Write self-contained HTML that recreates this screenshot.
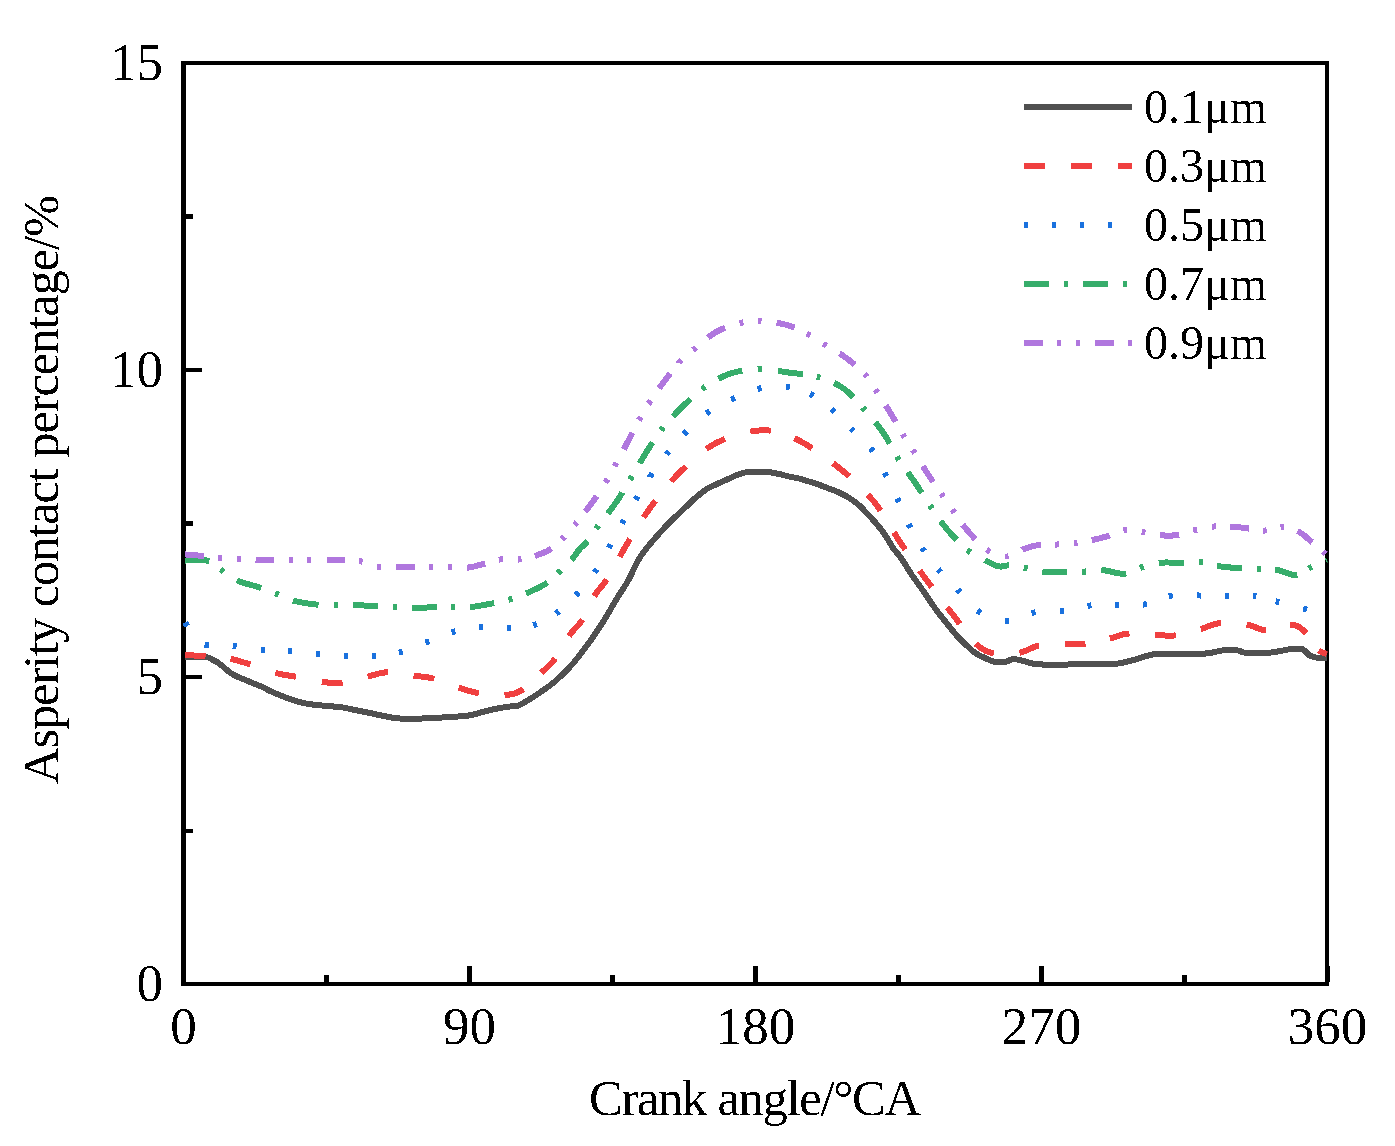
<!DOCTYPE html>
<html><head><meta charset="utf-8"><style>
html,body{margin:0;padding:0;background:#fff;width:1395px;height:1146px;overflow:hidden}
svg{display:block}
text{font-family:"Liberation Serif", serif;fill:#000}
</style></head><body>
<svg width="1395" height="1146" viewBox="0 0 1395 1146">
<rect width="1395" height="1146" fill="#fff"/>

<filter id="bin" filterUnits="userSpaceOnUse" x="0" y="0" width="1395" height="1146" color-interpolation-filters="sRGB"><feComponentTransfer><feFuncA type="discrete" tableValues="0 1"/></feComponentTransfer></filter>
<clipPath id="clip"><rect x="176" y="61" width="1151.5" height="923"/></clipPath>
<g fill="#000">
<rect x="181" y="61" width="5" height="925"/>
<rect x="181" y="61" width="1148" height="4"/>
<rect x="1325" y="61" width="4" height="925"/>
<rect x="181" y="982" width="1148" height="4"/>
<rect x="181.0" y="966" width="5" height="16"/>
<rect x="467.0" y="966" width="5" height="16"/>
<rect x="753.0" y="966" width="5" height="16"/>
<rect x="1039.0" y="966" width="5" height="16"/>
<rect x="1325.0" y="966" width="5" height="16"/>
<rect x="324.0" y="975" width="5" height="7"/>
<rect x="610.0" y="975" width="5" height="7"/>
<rect x="896.0" y="975" width="5" height="7"/>
<rect x="1182.0" y="975" width="5" height="7"/>
<rect x="186" y="982.0" width="16" height="4"/>
<rect x="186" y="675.0" width="16" height="4"/>
<rect x="186" y="368.0" width="16" height="4"/>
<rect x="186" y="61.0" width="16" height="4"/>
<rect x="186" y="829" width="7" height="4"/>
<rect x="186" y="521" width="7" height="5"/>
<rect x="186" y="214" width="7" height="5"/>
</g>
<g clip-path="url(#clip)" shape-rendering="crispEdges">
<path d="M185.0,657.5 C188.6,657.5 202.0,657.0 206.5,657.3 C211.0,657.6 210.3,658.6 212.2,659.5 C214.1,660.4 216.0,661.3 217.9,662.6 C219.8,663.9 221.8,665.6 223.7,667.2 C225.6,668.8 227.5,670.7 229.4,672.1 C231.3,673.5 233.2,674.6 235.1,675.6 C237.0,676.6 239.0,677.3 240.9,678.1 C242.8,678.9 244.7,679.6 246.6,680.4 C248.5,681.2 250.4,682.2 252.3,683.0 C254.2,683.8 256.2,684.5 258.1,685.3 C260.0,686.1 261.8,686.6 263.8,687.6 C265.8,688.6 266.6,689.5 270.0,691.0 C273.4,692.5 279.5,695.1 284.3,696.9 C289.1,698.7 293.9,700.6 298.7,701.9 C303.5,703.2 308.2,703.9 313.0,704.6 C317.8,705.3 322.5,705.5 327.3,706.0 C332.1,706.5 336.9,706.6 341.7,707.3 C346.5,708.0 351.3,709.2 356.0,710.2 C360.7,711.2 366.6,712.3 370.0,713.0 C373.4,713.7 373.5,713.9 376.5,714.5 C379.5,715.1 384.1,716.1 387.9,716.8 C391.7,717.5 393.7,718.2 399.4,718.5 C405.1,718.8 414.6,718.7 422.3,718.5 C430.0,718.3 437.7,717.8 445.3,717.3 C452.9,716.8 462.5,716.4 468.2,715.6 C473.9,714.9 475.9,713.8 479.7,712.8 C483.5,711.8 487.3,710.8 491.1,709.9 C494.9,709.0 498.8,708.3 502.6,707.6 C506.4,706.9 511.2,706.4 514.1,705.9 C517.0,705.4 516.1,706.8 520.0,704.8 C523.9,702.8 531.7,698.1 537.5,694.2 C543.3,690.3 549.1,686.5 554.9,681.5 C560.7,676.5 566.6,670.9 572.4,664.2 C578.2,657.6 585.4,647.5 589.8,641.6 C594.1,635.7 596.1,632.3 598.5,628.7 C600.9,625.1 601.4,624.8 604.3,620.0 C607.2,615.2 612.0,606.7 616.0,600.0 C620.0,593.3 625.4,585.6 628.5,580.0 C631.6,574.4 632.9,570.4 634.9,566.5 C636.9,562.6 638.5,559.7 640.6,556.4 C642.8,553.1 645.2,550.0 647.8,546.8 C650.4,543.6 653.2,540.4 656.0,537.2 C658.8,534.0 661.6,530.8 664.6,527.6 C667.6,524.4 670.9,521.2 674.2,518.0 C677.5,514.8 680.9,511.6 684.3,508.4 C687.7,505.2 690.7,502.0 694.4,498.8 C698.1,495.6 702.8,491.6 706.4,489.2 C710.0,486.8 712.0,486.4 716.0,484.5 C720.0,482.6 726.1,479.9 730.1,478.1 C734.1,476.3 736.8,474.9 740.1,473.8 C743.4,472.7 746.8,472.0 750.1,471.7 C753.5,471.4 756.9,471.8 760.2,471.9 C763.6,472.0 766.9,471.9 770.2,472.3 C773.6,472.7 776.9,473.6 780.3,474.3 C783.6,475.1 787.0,476.1 790.3,476.8 C793.6,477.5 796.9,477.9 800.0,478.7 C803.1,479.5 805.8,480.5 808.7,481.4 C811.6,482.3 814.6,483.2 817.5,484.2 C820.4,485.2 823.3,486.4 826.2,487.5 C829.1,488.6 832.0,489.5 834.9,490.7 C837.8,491.9 840.7,493.1 843.6,494.7 C846.5,496.3 849.7,498.2 852.4,500.1 C855.1,502.0 857.7,503.9 860.0,506.0 C862.3,508.1 864.0,510.4 866.0,512.5 C868.0,514.6 869.7,516.1 872.1,518.8 C874.5,521.4 877.8,525.2 880.3,528.4 C882.8,531.6 884.9,534.8 887.0,538.0 C889.1,541.2 890.5,544.4 892.8,547.6 C895.0,550.8 898.2,554.1 900.5,557.2 C902.8,560.4 904.5,563.4 906.5,566.5 C908.5,569.6 910.3,572.8 912.5,576.0 C914.7,579.2 917.4,582.6 919.8,586.0 C922.2,589.4 924.6,593.0 926.8,596.2 C928.9,599.4 930.5,601.9 932.7,605.0 C934.9,608.1 937.5,611.7 940.1,615.0 C942.7,618.3 945.7,622.0 948.1,625.0 C950.5,628.0 952.5,630.6 954.4,632.8 C956.2,635.0 957.6,636.6 959.2,638.3 C960.8,640.0 962.4,641.6 964.0,643.1 C965.6,644.6 967.2,646.0 968.8,647.4 C970.4,648.8 972.0,650.6 973.6,651.8 C975.2,653.0 976.8,653.9 978.4,654.8 C980.0,655.7 981.6,656.4 983.2,657.2 C984.8,658.0 986.4,658.7 988.0,659.4 C989.6,660.1 991.1,660.9 992.8,661.4 C994.5,661.9 996.1,662.2 998.0,662.3 C999.9,662.4 1002.3,662.4 1004.0,662.2 C1005.7,662.0 1006.7,661.5 1008.0,661.0 C1009.3,660.5 1010.3,659.7 1011.6,659.4 C1012.9,659.1 1013.8,659.1 1016.0,659.4 C1018.2,659.7 1022.4,660.7 1024.7,661.3 C1027.0,661.9 1027.9,662.4 1030.0,662.9 C1032.1,663.4 1033.0,663.8 1037.1,664.1 C1041.2,664.5 1048.7,665.0 1054.5,665.0 C1060.3,665.0 1064.4,664.5 1072.0,664.4 C1079.6,664.2 1092.4,664.2 1100.0,664.1 C1107.6,664.0 1111.7,664.3 1117.5,663.6 C1123.3,662.9 1129.1,661.2 1134.9,659.7 C1140.7,658.2 1146.6,655.5 1152.4,654.5 C1158.2,653.5 1161.1,653.8 1169.8,653.6 C1178.5,653.5 1196.0,654.1 1204.7,653.6 C1213.4,653.1 1216.7,651.0 1222.2,650.5 C1227.7,650.0 1234.1,650.1 1237.9,650.5 C1241.7,650.9 1240.2,652.3 1244.9,652.7 C1249.6,653.1 1259.4,653.5 1265.8,653.1 C1272.2,652.7 1278.9,651.2 1283.3,650.5 C1287.7,649.8 1288.8,649.1 1292.0,648.9 C1295.2,648.7 1299.6,648.1 1302.5,649.2 C1305.4,650.3 1307.2,653.9 1309.5,655.3 C1311.8,656.7 1313.5,657.2 1316.4,657.6 C1319.3,658.0 1325.2,657.6 1327.0,657.6" fill="none" stroke="#505050" stroke-width="6" stroke-linejoin="round"/>
<path d="M185.03,654.80 L185.47,654.84 L186.00,654.88 L186.60,654.93 L187.24,654.98 L187.94,655.03 L188.69,655.09 L189.48,655.15 L190.31,655.21 L191.18,655.28 L192.08,655.35 L193.01,655.42 L193.96,655.49 L194.94,655.57 L195.93,655.65 L196.94,655.73 L197.96,655.81 L198.98,655.89 L200.00,655.98 L201.03,656.06 L202.05,656.15 L203.06,656.24 L204.06,656.32 L205.04,656.41 L205.56,656.46 M230.53,658.99 L230.60,659.00 L231.50,659.17 L232.38,659.34 L233.23,659.51 L234.06,659.70 L234.87,659.88 L235.66,660.07 L236.44,660.27 L237.21,660.47 L237.97,660.67 L238.72,660.88 L239.47,661.10 L240.21,661.32 L240.96,661.54 L241.71,661.78 L242.47,662.01 L243.24,662.26 L244.02,662.50 L244.81,662.76 L245.62,663.02 L246.44,663.28 L247.29,663.55 L248.17,663.83 L249.07,664.11 L250.00,664.40 L250.40,664.53 M275.27,672.80 L276.00,673.00 L276.92,673.24 L277.80,673.47 L278.65,673.68 L279.47,673.87 L280.26,674.05 L281.03,674.21 L281.78,674.36 L282.52,674.51 L283.24,674.64 L283.96,674.77 L284.67,674.89 L285.38,675.01 L286.08,675.12 L286.80,675.23 L287.52,675.35 L288.26,675.46 L289.01,675.58 L289.78,675.70 L290.57,675.82 L291.39,675.96 L292.24,676.10 L293.12,676.26 L294.04,676.42 L295.00,676.60 L296.00,676.79 M321.82,681.74 L322.00,681.76 L323.00,681.90 L323.96,682.03 L324.88,682.15 L325.76,682.26 L326.61,682.37 L327.43,682.48 L328.23,682.58 L329.00,682.67 L329.76,682.76 L330.49,682.83 L331.22,682.90 L331.94,682.96 L332.65,683.01 L333.36,683.05 L334.07,683.08 L334.79,683.10 L335.51,683.11 L336.25,683.11 L337.00,683.09 L337.77,683.06 L338.56,683.02 L339.37,682.96 L340.21,682.89 L341.09,682.80 L342.00,682.70 L342.62,682.62 M367.54,676.61 L367.60,676.60 L368.54,676.38 L369.45,676.15 L370.33,675.92 L371.20,675.69 L372.04,675.45 L372.87,675.22 L373.68,674.98 L374.48,674.75 L375.27,674.52 L376.05,674.29 L376.83,674.07 L377.61,673.86 L378.38,673.65 L379.16,673.45 L379.95,673.27 L380.74,673.10 L381.55,672.94 L382.37,672.79 L383.20,672.66 L384.05,672.55 L384.93,672.46 L385.83,672.38 L386.75,672.33 L387.70,672.30 L387.78,672.30 M413.50,675.63 L414.00,675.70 L414.93,675.82 L415.82,675.93 L416.68,676.04 L417.51,676.13 L418.32,676.21 L419.11,676.29 L419.88,676.37 L420.63,676.44 L421.37,676.52 L422.10,676.59 L422.82,676.67 L423.54,676.74 L424.26,676.83 L424.99,676.92 L425.71,677.01 L426.45,677.12 L427.20,677.24 L427.96,677.37 L428.74,677.52 L429.54,677.68 L430.36,677.85 L431.21,678.05 L432.09,678.26 L433.00,678.50 L433.94,678.76 L434.17,678.83 M458.73,687.64 L459.54,687.90 L460.45,688.20 L461.33,688.48 L462.19,688.77 L463.03,689.04 L463.86,689.31 L464.67,689.58 L465.47,689.83 L466.25,690.08 L467.04,690.33 L467.81,690.57 L468.59,690.80 L469.36,691.03 L470.14,691.25 L470.93,691.46 L471.72,691.67 L472.53,691.87 L473.35,692.06 L474.18,692.25 L475.04,692.43 L475.91,692.61 L476.81,692.78 L477.74,692.94 L478.70,693.10 L478.84,693.12 M504.50,695.06 L505.30,695.00 L506.20,694.92 L507.07,694.84 L507.91,694.74 L508.72,694.64 L509.51,694.53 L510.28,694.40 L511.02,694.27 L511.75,694.12 L512.46,693.96 L513.16,693.79 L513.84,693.60 L514.52,693.40 L515.19,693.18 L515.85,692.95 L516.51,692.69 L517.17,692.42 L517.84,692.13 L518.50,691.82 L519.17,691.49 L519.85,691.14 L520.54,690.76 L521.25,690.37 L521.97,689.95 L522.70,689.50 L523.35,689.09 M541.07,672.93 L541.66,672.38 L542.30,671.79 L542.93,671.21 L543.54,670.66 L544.14,670.12 L544.72,669.59 L545.30,669.08 L545.87,668.57 L546.43,668.07 L546.98,667.56 L547.53,667.06 L548.08,666.56 L548.62,666.04 L549.15,665.52 L549.69,664.99 L550.23,664.44 L550.77,663.88 L551.31,663.29 L551.86,662.68 L552.41,662.05 L552.97,661.39 L553.54,660.69 L554.11,659.96 L554.70,659.20 L555.24,658.46 M569.05,635.91 L569.40,635.40 L569.97,634.60 L570.53,633.85 L571.09,633.13 L571.64,632.44 L572.19,631.79 L572.73,631.16 L573.27,630.55 L573.81,629.96 L574.34,629.39 L574.87,628.82 L575.39,628.27 L575.92,627.71 L576.44,627.16 L576.96,626.60 L577.48,626.03 L578.00,625.45 L578.52,624.85 L579.04,624.23 L579.57,623.59 L580.09,622.93 L580.61,622.23 L581.14,621.49 L581.67,620.72 L582.20,619.90 L582.41,619.55 M594.31,596.28 L594.50,595.95 L595.00,595.10 L595.49,594.30 L595.97,593.56 L596.44,592.85 L596.91,592.18 L597.36,591.55 L597.81,590.95 L598.26,590.38 L598.70,589.82 L599.13,589.29 L599.57,588.76 L600.00,588.25 L600.44,587.74 L600.87,587.24 L601.31,586.73 L601.75,586.21 L602.19,585.68 L602.64,585.13 L603.10,584.56 L603.56,583.97 L604.03,583.35 L604.50,582.70 L604.99,582.01 L605.49,581.28 L606.00,580.50 L606.52,579.68 L606.69,579.42 M619.60,556.94 L619.80,556.60 L620.28,555.76 L620.74,554.96 L621.17,554.20 L621.59,553.48 L621.98,552.78 L622.36,552.10 L622.73,551.44 L623.09,550.80 L623.44,550.17 L623.78,549.55 L624.13,548.93 L624.48,548.31 L624.84,547.69 L625.20,547.05 L625.57,546.40 L625.96,545.73 L626.36,545.04 L626.79,544.32 L627.23,543.57 L627.70,542.78 L628.20,541.96 L628.73,541.09 L629.30,540.17 L629.90,539.20 L630.02,539.01 M643.59,517.28 L643.84,516.91 L644.76,515.54 L645.70,514.17 L646.66,512.79 L647.62,511.42 L648.60,510.06 L649.60,508.70 L650.61,507.34 L651.63,505.95 L652.67,504.55 L653.73,503.14 L654.79,501.71 L655.50,500.77 M671.23,481.35 L671.35,481.21 L672.65,479.78 L673.96,478.36 L675.29,476.96 L676.64,475.57 L678.00,474.20 L679.38,472.83 L680.78,471.45 L682.19,470.05 L683.62,468.65 L685.07,467.24 L685.85,466.48 M706.23,449.08 L706.93,448.59 L708.60,447.46 L710.28,446.37 L711.97,445.33 L713.68,444.34 L715.40,443.40 L717.15,442.50 L718.93,441.62 L720.76,440.77 L722.61,439.95 L724.49,439.15 L725.01,438.94 M750.28,431.62 L751.80,431.36 L753.67,431.08 L755.51,430.85 L757.31,430.65 L759.08,430.50 L760.80,430.40 L762.48,430.34 L764.11,430.32 L765.71,430.34 L767.27,430.39 L768.80,430.49 L770.31,430.63 L770.82,430.69 M794.45,438.27 L795.34,438.70 L797.00,439.50 L798.70,440.35 L800.44,441.27 L802.23,442.25 L804.05,443.29 L805.90,444.38 L807.78,445.52 L809.67,446.70 L811.59,447.93 L812.15,448.29 M833.05,463.20 L834.49,464.31 L836.26,465.69 L837.99,467.05 L839.67,468.39 L841.30,469.70 L842.89,471.00 L844.46,472.29 L846.00,473.59 L847.52,474.88 L849.02,476.17 L849.19,476.31 M867.76,494.50 L867.97,494.74 L869.22,496.14 L870.45,497.56 L871.68,498.99 L872.89,500.43 L874.10,501.90 L875.29,503.39 L876.45,504.89 L877.59,506.42 L878.70,507.97 L879.80,509.53 L880.60,510.72 M893.95,532.40 L894.95,534.03 L895.97,535.66 L897.00,537.28 L898.04,538.90 L899.10,540.50 L900.17,542.10 L901.24,543.69 L902.31,545.29 L903.39,546.88 L904.47,548.48 L905.18,549.53 M919.65,570.48 L919.79,570.68 L920.91,572.25 L922.03,573.82 L923.15,575.38 L924.27,576.94 L925.40,578.50 L926.54,580.06 L927.69,581.63 L928.85,583.21 L930.03,584.79 L931.21,586.38 L931.72,587.06 M947.23,607.34 L947.86,608.15 L948.98,609.61 L950.09,611.04 L951.18,612.45 L952.25,613.84 L953.30,615.20 L954.33,616.55 L955.34,617.89 L956.33,619.23 L957.32,620.56 L958.28,621.89 L959.24,623.20 L959.68,623.82 M975.90,643.84 L975.94,643.88 L976.77,644.62 L977.58,645.32 L978.38,645.99 L979.16,646.62 L979.94,647.22 L980.71,647.78 L981.47,648.31 L982.22,648.81 L982.98,649.29 L983.73,649.73 L984.48,650.15 L985.24,650.54 L986.00,650.91 L986.77,651.26 L987.54,651.59 L988.33,651.90 L989.13,652.18 L989.95,652.46 L990.78,652.71 L991.63,652.95 L992.49,653.18 L993.39,653.40 L993.92,653.52 M1019.50,652.72 L1019.60,652.70 L1020.51,652.52 L1021.39,652.31 L1022.24,652.08 L1023.07,651.83 L1023.88,651.55 L1024.66,651.25 L1025.44,650.94 L1026.19,650.62 L1026.94,650.29 L1027.68,649.95 L1028.41,649.60 L1029.14,649.25 L1029.88,648.90 L1030.61,648.55 L1031.36,648.20 L1032.11,647.87 L1032.87,647.54 L1033.65,647.22 L1034.45,646.92 L1035.27,646.63 L1036.11,646.36 L1036.97,646.12 L1037.87,645.90 L1038.80,645.70 L1039.03,645.66 M1065.01,644.00 L1065.97,643.97 L1066.92,643.96 L1067.85,643.96 L1068.76,643.97 L1069.66,643.99 L1070.54,644.01 L1071.40,644.05 L1072.26,644.09 L1073.11,644.13 L1073.95,644.17 L1074.78,644.21 L1075.61,644.25 L1076.44,644.29 L1077.27,644.32 L1078.10,644.34 L1078.94,644.36 L1079.78,644.37 L1080.63,644.36 L1081.49,644.34 L1082.36,644.31 L1083.25,644.26 L1084.15,644.19 L1085.06,644.11 L1085.51,644.06 M1109.81,638.45 L1110.40,638.30 L1111.27,638.08 L1112.12,637.85 L1112.93,637.62 L1113.72,637.38 L1114.49,637.14 L1115.24,636.89 L1115.97,636.65 L1116.69,636.41 L1117.40,636.17 L1118.10,635.93 L1118.79,635.69 L1119.49,635.46 L1120.18,635.24 L1120.88,635.02 L1121.59,634.81 L1122.31,634.61 L1123.04,634.43 L1123.79,634.25 L1124.56,634.09 L1125.35,633.94 L1126.17,633.80 L1127.01,633.68 L1127.89,633.58 L1128.80,633.50 L1129.48,633.46 M1155.07,634.80 L1155.97,634.84 L1156.91,634.89 L1157.84,634.95 L1158.74,635.01 L1159.62,635.08 L1160.49,635.15 L1161.35,635.22 L1162.20,635.29 L1163.03,635.35 L1163.86,635.42 L1164.69,635.48 L1165.51,635.54 L1166.33,635.59 L1167.15,635.63 L1167.97,635.66 L1168.80,635.68 L1169.64,635.69 L1170.49,635.69 L1171.35,635.67 L1172.22,635.63 L1173.11,635.58 L1174.02,635.51 L1174.95,635.41 L1175.75,635.32 M1200.79,628.91 L1201.20,628.80 L1202.11,628.54 L1202.99,628.27 L1203.84,628.00 L1204.66,627.72 L1205.46,627.43 L1206.24,627.15 L1207.01,626.86 L1207.76,626.57 L1208.50,626.28 L1209.23,625.99 L1209.96,625.71 L1210.69,625.44 L1211.42,625.17 L1212.15,624.91 L1212.89,624.66 L1213.64,624.42 L1214.41,624.20 L1215.19,623.99 L1215.99,623.79 L1216.81,623.61 L1217.66,623.45 L1218.54,623.31 L1219.45,623.20 L1220.40,623.10 L1220.71,623.08 M1246.54,624.66 L1247.50,624.80 L1248.42,624.96 L1249.31,625.14 L1250.15,625.35 L1250.97,625.58 L1251.75,625.83 L1252.51,626.10 L1253.24,626.37 L1253.96,626.66 L1254.66,626.95 L1255.35,627.25 L1256.03,627.54 L1256.71,627.83 L1257.38,628.12 L1258.06,628.39 L1258.75,628.66 L1259.44,628.91 L1260.15,629.14 L1260.88,629.35 L1261.62,629.54 L1262.39,629.69 L1263.19,629.82 L1264.03,629.92 L1264.89,629.98 L1265.80,630.00 L1266.11,629.99 M1290.35,624.80 L1291.14,624.77 L1292.00,624.80 L1292.82,624.88 L1293.62,625.00 L1294.39,625.16 L1295.13,625.35 L1295.85,625.58 L1296.55,625.84 L1297.22,626.13 L1297.87,626.45 L1298.50,626.79 L1299.10,627.14 L1299.69,627.52 L1300.26,627.91 L1300.82,628.31 L1301.35,628.72 L1301.87,629.13 L1302.38,629.55 L1302.87,629.97 L1303.35,630.39 L1303.82,630.80 L1304.27,631.21 L1304.72,631.60 L1305.15,631.99 L1305.58,632.35 L1306.00,632.70 L1306.40,633.04 L1306.45,633.08 M1318.77,650.59 L1319.04,650.77 L1319.43,651.00 L1319.83,651.23 L1320.25,651.45 L1320.68,651.65 L1321.11,651.85 L1321.55,652.04 L1321.99,652.22 L1322.44,652.40 L1322.88,652.56 L1323.31,652.72 L1323.74,652.87 L1324.15,653.01 L1324.56,653.15 L1324.94,653.28 L1325.31,653.40 L1325.66,653.51 L1325.99,653.62 L1326.29,653.73 L1326.56,653.82 L1326.79,653.91 L1327.00,654.00" fill="none" stroke="#f04040" stroke-width="6" stroke-linecap="butt"/>
<path d="M185.03,622.55 L185.11,622.68 L185.24,622.88 L185.37,623.11 L185.52,623.35 L185.68,623.62 L185.85,623.90 L186.03,624.20 L186.22,624.52 L186.42,624.85 L186.63,625.19 L186.84,625.54 L187.06,625.91 L187.20,626.12 M204.73,644.55 L204.92,644.60 L205.56,644.74 L206.26,644.87 L207.00,645.00 L207.80,645.12 L208.65,645.21 L208.84,645.23 M232.63,645.89 L232.82,645.90 L234.00,646.00 L235.17,646.11 L236.35,646.24 L236.64,646.27 M260.94,649.79 L261.83,649.89 L263.00,650.00 L264.16,650.10 L264.91,650.15 M288.09,650.88 L288.86,650.92 L290.00,651.00 L291.15,651.09 L292.02,651.16 M315.90,653.80 L316.83,653.89 L318.00,654.00 L319.17,654.10 L319.88,654.17 M343.80,655.91 L344.83,655.96 L346.00,656.00 L347.17,656.04 L347.80,656.06 M371.80,656.14 L372.85,656.08 L374.00,656.00 L375.14,655.92 L375.74,655.87 M398.87,652.54 L399.89,652.29 L401.00,652.00 L402.11,651.69 L402.73,651.51 M425.50,642.55 L426.31,642.23 L427.40,641.80 L428.49,641.38 L429.25,641.07 M451.49,632.36 L452.29,632.12 L453.40,631.80 L454.52,631.49 L455.34,631.27 M479.09,626.95 L479.84,626.89 L481.00,626.80 L482.16,626.74 L483.09,626.70 M506.91,628.03 L507.87,628.03 L509.00,628.00 L510.12,627.96 L510.79,627.93 M533.28,625.31 L533.99,625.11 L535.00,624.80 L536.01,624.47 L536.82,624.18 M556.02,613.58 L556.62,613.14 L557.50,612.50 L558.37,611.85 L559.04,611.33 M575.69,595.23 L576.20,594.67 L577.00,593.80 L577.81,592.92 L578.42,592.24 M594.52,572.52 L594.60,572.40 L595.31,571.40 L596.00,570.40 L596.67,569.40 L596.87,569.10 M608.72,547.79 L609.14,547.01 L609.70,546.00 L610.26,544.99 L610.65,544.28 M621.94,523.52 L622.34,522.80 L622.90,521.80 L623.46,520.80 L623.86,520.09 M635.68,499.68 L636.11,498.98 L636.70,498.00 L637.29,497.02 L637.70,496.34 M650.11,476.60 L650.11,476.59 L650.75,475.65 L651.40,474.70 L652.05,473.76 L652.32,473.37 M666.44,454.39 L667.09,453.58 L667.80,452.70 L668.51,451.83 L668.88,451.38 M684.01,434.21 L684.67,433.54 L685.50,432.70 L686.35,431.85 L686.90,431.30 M706.34,413.60 L707.11,413.02 L708.10,412.30 L709.09,411.60 L709.76,411.14 M731.06,399.55 L731.83,399.20 L732.90,398.70 L733.97,398.20 L734.76,397.84 M757.60,388.95 L758.45,388.75 L759.60,388.50 L760.75,388.27 L761.60,388.12 M785.97,387.08 L786.90,387.18 L788.00,387.30 L789.08,387.44 L789.78,387.54 M810.20,393.99 L810.86,394.32 L811.80,394.80 L812.73,395.29 L813.46,395.70 M831.48,409.27 L832.06,409.77 L832.90,410.50 L833.74,411.23 L834.35,411.79 M850.73,428.41 L851.29,428.98 L852.10,429.80 L852.92,430.61 L853.53,431.21 M870.67,448.11 L871.19,448.77 L871.90,449.70 L872.59,450.64 L873.08,451.36 M884.58,472.89 L884.96,473.65 L885.50,474.70 L886.04,475.75 L886.44,476.52 M897.26,498.53 L897.50,499.03 L898.00,500.10 L898.50,501.18 L898.97,502.21 M908.71,524.21 L909.18,525.16 L909.70,526.20 L910.23,527.23 L910.49,527.74 M922.20,548.02 L922.69,548.77 L923.30,549.70 L923.92,550.62 L924.32,551.22 M938.05,569.25 L938.56,569.84 L939.30,570.70 L940.05,571.55 L940.62,572.20 M957.59,589.46 L958.07,589.95 L958.90,590.80 L959.72,591.66 L960.41,592.41 M977.37,610.51 L978.11,611.04 L979.10,611.70 L980.12,612.33 L980.90,612.79 M1004.88,621.18 L1005.96,621.26 L1007.10,621.30 L1008.23,621.28 L1009.02,621.22 M1031.64,613.06 L1032.46,612.85 L1033.60,612.60 L1034.75,612.40 L1035.60,612.26 M1059.88,611.02 L1060.73,610.93 L1061.90,610.80 L1063.06,610.64 L1063.89,610.52 M1087.51,605.85 L1088.36,605.74 L1089.50,605.60 L1090.64,605.48 L1091.44,605.40 M1114.85,604.73 L1115.65,604.72 L1116.80,604.70 L1117.96,604.68 L1118.82,604.68 M1143.00,604.68 L1143.87,604.57 L1145.00,604.40 L1146.12,604.19 L1146.90,604.01 M1168.80,596.08 L1169.58,595.91 L1170.70,595.70 L1171.83,595.53 L1172.70,595.42 M1196.98,595.48 L1197.83,595.49 L1199.00,595.50 L1200.17,595.50 L1200.99,595.50 M1224.91,595.69 L1225.74,595.70 L1226.90,595.70 L1228.07,595.70 L1228.89,595.69 M1252.82,595.50 L1253.74,595.58 L1254.80,595.70 L1255.83,595.84 L1256.44,595.93 M1275.60,601.36 L1276.17,601.52 L1277.20,601.80 L1278.26,602.08 L1279.19,602.33 M1303.12,608.54 L1304.05,608.80 L1305.10,609.10 L1306.15,609.40 L1307.02,609.66" fill="none" stroke="#1a71de" stroke-width="6" stroke-linecap="butt"/>
<path d="M185.00,560.50 L185.55,560.50 L186.19,560.50 L186.93,560.48 L187.74,560.45 L188.62,560.42 L189.57,560.38 L190.58,560.34 L191.63,560.30 L192.73,560.26 L193.86,560.22 L195.01,560.18 L196.19,560.16 L197.37,560.14 L198.56,560.13 L199.75,560.13 L200.93,560.15 L202.08,560.18 L203.21,560.23 L204.31,560.30 L205.36,560.39 L206.36,560.50 L207.31,560.64 L208.19,560.81 L209.00,561.00 L209.28,561.08 M220.56,569.41 L220.86,569.66 L221.42,570.09 L222.00,570.50 L222.59,570.91 L223.19,571.33 L223.77,571.75 M236.83,580.24 L237.60,580.60 L238.41,580.95 L239.25,581.29 L240.11,581.63 L241.00,581.95 L241.92,582.27 L242.85,582.58 L243.80,582.89 L244.76,583.19 L245.74,583.48 L246.72,583.77 L247.72,584.05 L248.71,584.33 L249.71,584.61 L250.71,584.88 L251.70,585.16 L252.68,585.43 L253.66,585.70 L254.62,585.96 L255.57,586.23 L256.50,586.50 L257.41,586.77 L258.30,587.05 L259.16,587.32 L260.00,587.60 L260.81,587.88 L261.12,587.98 M275.05,593.23 L275.62,593.46 L276.31,593.73 L277.00,594.00 L277.69,594.28 L278.37,594.56 L278.80,594.74 M293.02,600.57 L293.50,600.70 L294.37,600.92 L295.28,601.14 L296.22,601.36 L297.20,601.57 L298.19,601.78 L299.21,601.98 L300.26,602.18 L301.31,602.38 L302.39,602.57 L303.47,602.76 L304.56,602.94 L305.66,603.12 L306.75,603.29 L307.85,603.45 L308.94,603.61 L310.02,603.76 L311.09,603.91 L312.14,604.04 L313.18,604.17 L314.20,604.30 L315.19,604.41 L316.16,604.52 L317.10,604.61 L318.00,604.70 L318.56,604.75 M334.12,604.71 L334.50,604.70 L335.25,604.70 L336.00,604.70 L336.76,604.71 L337.51,604.71 L338.18,604.72 M353.07,604.95 L353.65,604.97 L354.50,605.00 L355.36,605.04 L356.25,605.08 L357.15,605.12 L358.07,605.17 L359.01,605.22 L359.96,605.27 L360.91,605.33 L361.88,605.39 L362.86,605.45 L363.83,605.51 L364.82,605.57 L365.80,605.64 L366.78,605.70 L367.76,605.76 L368.74,605.83 L369.71,605.89 L370.67,605.95 L371.62,606.01 L372.56,606.06 L373.48,606.12 L374.39,606.17 L375.28,606.22 L376.15,606.26 L377.00,606.30 L377.82,606.34 L377.89,606.34 M392.72,606.74 L392.97,606.75 L393.82,606.77 L394.70,606.80 L395.62,606.83 L396.57,606.87 L396.70,606.87 M411.67,607.49 L411.93,607.50 L413.03,607.54 L414.11,607.58 L415.17,607.61 L416.20,607.64 L417.20,607.66 L418.17,607.68 L419.11,607.69 L420.00,607.70 L420.86,607.70 L421.69,607.70 L422.49,607.68 L423.27,607.67 L424.02,607.65 L424.76,607.62 L425.47,607.59 L426.17,607.56 L426.85,607.52 L427.52,607.49 L428.18,607.45 L428.83,607.41 L429.47,607.36 L430.11,607.32 L430.74,607.28 L431.37,607.24 L432.01,607.20 L432.64,607.16 L433.28,607.13 L433.92,607.09 L434.57,607.06 L435.24,607.04 L435.91,607.02 L436.60,607.00 M451.42,607.00 L451.99,607.00 L452.69,607.00 L453.40,607.00 L454.10,607.00 L454.80,607.01 L455.35,607.02 M469.93,607.05 L470.50,607.00 L471.32,606.92 L472.17,606.83 L473.03,606.73 L473.92,606.62 L474.82,606.50 L475.73,606.37 L476.65,606.23 L477.59,606.09 L478.53,605.94 L479.48,605.79 L480.44,605.63 L481.39,605.46 L482.35,605.30 L483.31,605.12 L484.26,604.95 L485.21,604.78 L486.15,604.60 L487.09,604.43 L488.01,604.25 L488.92,604.08 L489.82,603.90 L490.70,603.73 L491.56,603.56 L492.40,603.40 L493.23,603.24 L494.04,603.08 L494.15,603.06 M508.51,599.75 L508.95,599.63 L509.67,599.42 L510.40,599.20 L511.12,598.98 L511.84,598.76 L512.26,598.63 M525.96,593.49 L526.55,593.23 L527.30,592.90 L528.06,592.56 L528.84,592.22 L529.63,591.86 L530.44,591.50 L531.26,591.13 L532.09,590.75 L532.92,590.37 L533.77,589.98 L534.61,589.58 L535.46,589.18 L536.31,588.77 L537.16,588.36 L538.00,587.95 L538.84,587.53 L539.67,587.10 L540.49,586.68 L541.30,586.25 L542.10,585.82 L542.88,585.38 L543.64,584.95 L544.39,584.51 L545.12,584.08 L545.82,583.64 L546.50,583.20 L547.16,582.76 L547.44,582.56 M558.03,573.11 L558.29,572.86 L558.79,572.38 L559.30,571.90 L559.82,571.42 L560.34,570.94 L560.86,570.46 L560.86,570.46 M571.45,560.01 L571.61,559.83 L572.01,559.36 L572.40,558.89 L572.78,558.42 L573.15,557.94 L573.51,557.47 L573.86,556.99 L574.20,556.52 L574.54,556.05 L574.87,555.58 L575.20,555.11 L575.52,554.64 L575.84,554.18 L576.16,553.73 L576.47,553.27 L576.79,552.83 L577.10,552.38 L577.41,551.95 L577.72,551.52 L578.03,551.10 L578.34,550.69 L578.66,550.28 L578.98,549.89 L579.30,549.50 L579.62,549.13 L579.94,548.78 L580.25,548.46 L580.55,548.15 L580.85,547.85 L581.14,547.57 L581.44,547.30 L581.73,547.04 L582.02,546.78 L582.31,546.53 L582.60,546.27 L582.89,546.02 L583.19,545.76 L583.49,545.50 L583.79,545.22 L584.09,544.94 L584.40,544.64 L584.72,544.33 L585.05,544.00 L585.38,543.65 L585.72,543.28 L586.07,542.88 L586.43,542.46 L586.80,542.00 L587.18,541.52 L587.54,541.05 M596.04,528.77 L596.24,528.49 L596.81,527.70 L597.40,526.90 L598.02,526.07 L598.42,525.53 M607.76,513.56 L607.83,513.47 L608.65,512.42 L609.46,511.37 L610.27,510.31 L611.07,509.25 L611.86,508.20 L612.64,507.14 L613.41,506.10 L614.16,505.05 L614.89,504.02 L615.60,503.00 L616.30,501.98 L616.98,500.96 L617.66,499.94 L618.33,498.92 L618.99,497.89 L619.65,496.86 L620.30,495.83 L620.95,494.80 L621.59,493.77 L622.23,492.74 L622.24,492.71 M630.04,479.69 L630.36,479.15 L631.00,478.10 L631.64,477.04 L632.11,476.25 M639.59,463.41 L639.83,462.99 L640.46,461.91 L641.09,460.83 L641.72,459.76 L642.36,458.69 L642.99,457.62 L643.63,456.57 L644.27,455.51 L644.91,454.47 L645.55,453.43 L646.20,452.40 L646.85,451.38 L647.49,450.36 L648.13,449.34 L648.77,448.33 L649.41,447.32 L650.05,446.31 L650.68,445.31 L651.32,444.31 L651.96,443.32 L652.59,442.34 M661.03,430.28 L661.37,429.83 L662.10,428.90 L662.84,427.97 L663.42,427.26 M672.76,416.61 L672.98,416.38 L673.80,415.51 L674.63,414.65 L675.46,413.79 L676.29,412.93 L677.13,412.07 L677.98,411.21 L678.83,410.36 L679.68,409.51 L680.54,408.65 L681.40,407.80 L682.27,406.95 L683.13,406.09 L684.01,405.23 L684.88,404.36 L685.76,403.50 L686.65,402.63 L687.53,401.76 L688.43,400.90 L689.32,400.04 L690.23,399.18 L690.25,399.16 M701.94,389.20 L702.59,388.72 L703.60,388.00 L704.62,387.29 L705.27,386.84 M718.25,378.88 L718.63,378.69 L719.75,378.10 L720.89,377.54 L722.02,376.99 L723.16,376.46 L724.31,375.94 L725.46,375.45 L726.61,374.98 L727.77,374.53 L728.93,374.10 L730.10,373.70 L731.27,373.32 L732.45,372.96 L733.64,372.61 L734.84,372.29 L736.05,371.99 L737.26,371.70 L738.48,371.43 L739.71,371.18 L740.94,370.95 L742.18,370.73 L742.33,370.70 M757.56,369.25 L758.37,369.23 L759.60,369.20 L760.83,369.19 L761.77,369.20 M777.90,370.88 L778.04,370.90 L779.27,371.09 L780.50,371.29 L781.73,371.49 L782.95,371.68 L784.18,371.88 L785.41,372.07 L786.64,372.25 L787.87,372.43 L789.10,372.60 L790.33,372.76 L791.57,372.91 L792.82,373.06 L794.07,373.21 L795.32,373.35 L796.58,373.49 L797.84,373.62 L799.10,373.76 L800.36,373.90 L801.62,374.05 L802.88,374.20 L802.99,374.21 M816.80,376.61 L817.46,376.78 L818.60,377.10 L819.73,377.44 L820.45,377.66 M833.95,382.90 L834.69,383.26 L835.70,383.78 L836.71,384.31 L837.70,384.86 L838.69,385.42 L839.66,386.00 L840.63,386.60 L841.60,387.21 L842.55,387.85 L843.50,388.50 L844.44,389.17 L845.36,389.87 L846.27,390.60 L847.17,391.34 L848.06,392.10 L848.94,392.89 L849.81,393.69 L850.67,394.51 L851.53,395.34 L852.37,396.19 L853.16,397.00 M862.64,407.49 L863.07,407.98 L863.90,408.90 L864.73,409.83 L865.28,410.45 M875.38,422.29 L875.53,422.48 L876.34,423.49 L877.14,424.51 L877.93,425.52 L878.72,426.54 L879.49,427.57 L880.26,428.59 L881.01,429.62 L881.75,430.64 L882.48,431.67 L883.20,432.70 L883.90,433.73 L884.58,434.77 L885.25,435.82 L885.90,436.88 L886.54,437.94 L887.16,439.00 L887.78,440.07 L888.39,441.15 L888.98,442.23 L889.57,443.30 L889.66,443.47 M896.94,456.60 L897.34,457.26 L898.00,458.30 L898.67,459.34 L899.09,459.99 M907.72,472.32 L907.88,472.54 L908.61,473.54 L909.33,474.55 L910.06,475.55 L910.78,476.56 L911.49,477.56 L912.20,478.57 L912.91,479.57 L913.61,480.58 L914.31,481.59 L915.00,482.60 L915.68,483.61 L916.36,484.63 L917.03,485.64 L917.70,486.66 L918.37,487.68 L919.03,488.70 L919.68,489.71 L920.34,490.73 L920.99,491.75 L921.65,492.77 L921.77,492.96 M929.85,505.36 L930.22,505.90 L930.90,506.90 L931.58,507.89 L932.09,508.64 M940.64,520.97 L941.23,521.78 L941.94,522.76 L942.66,523.72 L943.39,524.68 L944.12,525.64 L944.86,526.58 L945.60,527.52 L946.36,528.46 L947.13,529.38 L947.90,530.30 L948.69,531.22 L949.49,532.14 L950.31,533.07 L951.15,534.00 L952.00,534.93 L952.85,535.87 L953.72,536.80 L954.60,537.73 L955.48,538.65 L956.36,539.56 L956.60,539.81 M967.18,549.77 L967.52,550.06 L968.30,550.70 L969.06,551.31 L969.81,551.88 L970.41,552.32 M984.70,560.20 L985.33,560.52 L985.96,560.85 L986.59,561.17 L987.21,561.49 L987.83,561.81 L988.45,562.13 L989.06,562.44 L989.67,562.74 L990.28,563.04 L990.88,563.33 L991.48,563.62 L992.07,563.89 L992.66,564.16 L993.24,564.42 L993.81,564.67 L994.38,564.90 L994.95,565.13 L995.50,565.34 L996.05,565.54 L996.60,565.72 L997.13,565.89 L997.66,566.04 L998.19,566.18 L998.70,566.30 L999.20,566.40 L999.68,566.46 L1000.14,566.51 L1000.58,566.53 L1001.01,566.53 L1001.43,566.51 L1001.84,566.47 L1002.24,566.42 L1002.63,566.36 L1003.02,566.28 L1003.41,566.20 L1003.79,566.12 L1004.18,566.03 L1004.58,565.94 L1004.98,565.85 L1005.39,565.77 L1005.80,565.69 L1006.24,565.62 L1006.68,565.56 L1007.14,565.52 L1007.62,565.48 L1008.13,565.47 L1008.65,565.47 L1009.20,565.50 L1009.25,565.50 M1023.77,567.74 L1024.30,567.84 L1025.01,567.97 L1025.70,568.10 L1026.38,568.23 L1027.05,568.37 L1027.67,568.51 M1042.40,571.61 L1043.19,571.67 L1044.13,571.72 L1045.11,571.77 L1046.11,571.80 L1047.15,571.83 L1048.22,571.85 L1049.30,571.86 L1050.41,571.86 L1051.53,571.86 L1052.67,571.85 L1053.81,571.84 L1054.95,571.82 L1056.09,571.80 L1057.23,571.78 L1058.37,571.75 L1059.49,571.73 L1060.60,571.71 L1061.68,571.68 L1062.75,571.66 L1063.79,571.64 L1064.79,571.62 L1065.77,571.61 L1066.71,571.60 L1067.40,571.60 M1082.23,571.67 L1082.81,571.66 L1083.50,571.63 L1084.20,571.60 L1084.91,571.56 L1085.61,571.51 L1086.23,571.45 M1101.44,569.99 L1101.70,570.00 L1102.55,570.06 L1103.43,570.16 L1104.32,570.28 L1105.24,570.43 L1106.18,570.60 L1107.13,570.79 L1108.10,571.00 L1109.07,571.22 L1110.06,571.45 L1111.05,571.68 L1112.05,571.92 L1113.05,572.16 L1114.05,572.39 L1115.05,572.61 L1116.04,572.83 L1117.03,573.03 L1118.00,573.21 L1118.97,573.37 L1119.92,573.50 L1120.86,573.61 L1121.78,573.69 L1122.67,573.73 L1123.55,573.74 L1124.40,573.70 L1125.23,573.62 L1126.04,573.51 L1126.31,573.46 M1140.03,567.87 L1140.46,567.70 L1141.18,567.44 L1141.90,567.20 L1142.62,566.97 L1143.33,566.75 L1143.85,566.58 M1158.69,562.87 L1159.30,562.80 L1160.19,562.72 L1161.12,562.65 L1162.07,562.59 L1163.06,562.55 L1164.07,562.52 L1165.10,562.50 L1166.15,562.49 L1167.21,562.49 L1168.29,562.50 L1169.38,562.51 L1170.47,562.53 L1171.57,562.56 L1172.66,562.58 L1173.76,562.61 L1174.84,562.64 L1175.92,562.67 L1176.98,562.70 L1178.03,562.73 L1179.06,562.76 L1180.06,562.78 L1181.04,562.79 L1181.99,562.80 L1182.91,562.81 L1183.80,562.80 L1184.00,562.80 M1198.91,562.17 L1199.54,562.20 L1200.21,562.24 L1200.90,562.30 L1201.58,562.37 L1202.24,562.47 L1202.83,562.56 M1216.97,566.01 L1217.76,566.13 L1218.67,566.25 L1219.60,566.37 L1220.57,566.49 L1221.57,566.61 L1222.59,566.73 L1223.64,566.84 L1224.70,566.95 L1225.78,567.06 L1226.87,567.17 L1227.96,567.27 L1229.06,567.38 L1230.16,567.47 L1231.26,567.57 L1232.36,567.67 L1233.44,567.76 L1234.52,567.85 L1235.58,567.94 L1236.61,568.02 L1237.63,568.10 L1238.62,568.18 L1239.58,568.26 L1240.51,568.33 L1241.40,568.40 L1241.69,568.42 M1256.79,569.22 L1257.37,569.24 L1258.08,569.27 L1258.80,569.30 L1259.52,569.32 L1260.24,569.34 L1260.71,569.34 M1275.06,569.62 L1275.51,569.68 L1276.30,569.80 L1277.11,569.95 L1277.95,570.13 L1278.80,570.35 L1279.68,570.59 L1280.57,570.86 L1281.47,571.15 L1282.38,571.46 L1283.30,571.78 L1284.23,572.11 L1285.16,572.45 L1286.09,572.78 L1287.03,573.11 L1287.95,573.44 L1288.87,573.75 L1289.78,574.05 L1290.69,574.33 L1291.57,574.59 L1292.44,574.82 L1293.30,575.01 L1294.13,575.18 L1294.94,575.30 L1295.72,575.38 L1296.48,575.42 L1297.20,575.40 L1297.44,575.38 M1308.76,568.60 L1309.11,568.38 L1309.69,568.03 L1310.30,567.70 L1310.94,567.38 L1311.62,567.04 L1312.09,566.82 M1325.80,560.73 L1326.18,560.56 L1326.62,560.37 L1327.00,560.20" fill="none" stroke="#37ad6b" stroke-width="6" stroke-linecap="butt"/>
<path d="M185.02,554.40 L185.40,554.44 L185.86,554.48 L186.38,554.52 L186.94,554.57 L187.56,554.62 L188.21,554.68 L188.91,554.74 L189.64,554.80 L190.40,554.87 L191.19,554.93 L192.00,555.00 L192.83,555.08 L193.67,555.15 L194.53,555.22 L195.39,555.30 L196.25,555.38 L197.11,555.46 L197.96,555.53 L198.80,555.61 L199.63,555.69 L200.43,555.77 L201.22,555.85 L201.97,555.92 L202.70,556.00 L203.40,556.08 L203.86,556.13 M217.84,557.90 L218.25,557.94 L219.00,558.00 L219.76,558.06 L220.52,558.11 L221.28,558.15 L221.70,558.18 M237.03,558.72 L237.13,558.72 L238.06,558.76 L239.00,558.80 L239.96,558.84 L240.85,558.89 M255.58,559.66 L255.80,559.67 L256.91,559.73 L258.01,559.77 L259.12,559.82 L260.22,559.86 L261.32,559.90 L262.42,559.94 L263.51,559.97 L264.60,560.00 L265.69,560.02 L266.80,560.04 L267.92,560.06 L269.05,560.07 L270.19,560.08 L271.34,560.08 L272.49,560.09 L273.65,560.09 L274.45,560.09 M288.87,560.00 L289.09,560.00 L290.06,560.00 L291.00,560.00 L291.90,560.00 L292.69,560.00 M307.31,560.00 L308.08,560.00 L309.00,560.00 L309.95,560.00 L310.94,560.00 L311.14,559.99 M326.62,559.90 L326.84,559.90 L328.02,559.90 L329.20,559.90 L330.37,559.91 L331.53,559.92 L332.67,559.93 L333.80,559.95 L334.91,559.97 L336.00,560.00 L337.08,560.03 L338.16,560.06 L339.24,560.08 L340.32,560.11 L341.41,560.13 L342.49,560.16 L343.57,560.19 L344.64,560.22 L345.37,560.24 M358.90,561.15 L359.80,561.27 L360.70,561.40 L361.58,561.55 L362.42,561.72 L362.63,561.77 M377.06,566.39 L377.23,566.42 L378.10,566.57 L379.00,566.70 L379.94,566.81 L380.89,566.90 M396.09,567.13 L397.18,567.11 L398.32,567.08 L399.45,567.06 L400.58,567.04 L401.70,567.03 L402.81,567.01 L403.91,567.00 L405.00,567.00 L406.09,567.00 L407.19,567.00 L408.30,566.99 L409.41,566.98 L410.54,566.97 L411.66,566.96 L412.79,566.95 L413.93,566.93 L415.06,566.92 L415.06,566.92 M429.21,566.72 L430.05,566.71 L431.00,566.70 L431.93,566.69 L432.83,566.69 L433.03,566.69 M447.97,566.66 L448.48,566.67 L449.24,566.68 L450.00,566.70 L450.76,566.72 L451.53,566.76 L451.78,566.77 M466.81,567.66 L467.00,567.65 L467.70,567.60 L468.39,567.54 L469.07,567.46 L469.74,567.37 L470.40,567.27 L471.06,567.16 L471.71,567.04 L472.35,566.91 L472.99,566.77 L473.62,566.62 L474.26,566.47 L474.89,566.31 L475.52,566.14 L476.15,565.97 L476.78,565.80 L477.41,565.62 L478.04,565.44 L478.68,565.26 L479.32,565.08 L479.97,564.89 L480.62,564.71 L481.28,564.53 L481.94,564.35 L482.62,564.17 L483.30,564.00 L483.99,563.82 L484.68,563.64 L485.19,563.49 M498.83,559.69 L499.18,559.63 L499.94,559.50 L500.70,559.40 L501.47,559.32 L502.25,559.25 L502.66,559.23 M517.93,559.54 L518.52,559.51 L519.27,559.47 L520.00,559.40 L520.72,559.32 L521.43,559.23 L521.61,559.20 M534.96,555.88 L535.50,555.70 L536.13,555.49 L536.76,555.28 L537.39,555.06 L538.02,554.85 L538.65,554.63 L539.28,554.41 L539.90,554.18 L540.53,553.96 L541.15,553.72 L541.78,553.48 L542.40,553.24 L543.02,552.99 L543.64,552.73 L544.25,552.46 L544.86,552.19 L545.47,551.91 L546.08,551.62 L546.68,551.32 L547.28,551.01 L547.87,550.69 L548.46,550.36 L549.04,550.02 L549.62,549.67 L550.20,549.30 L550.77,548.92 L551.31,548.55 M561.68,539.13 L561.95,538.86 L562.47,538.33 L563.00,537.80 L563.53,537.27 L564.05,536.74 L564.37,536.41 M574.48,525.15 L575.01,524.52 L575.60,523.80 L576.21,523.06 L576.81,522.33 M585.27,511.73 L585.68,511.20 L586.38,510.29 L587.08,509.37 L587.77,508.46 L588.46,507.54 L589.15,506.63 L589.82,505.71 L590.49,504.80 L591.15,503.90 L591.80,503.00 L592.45,502.10 L593.10,501.18 L593.75,500.25 L594.40,499.31 L595.06,498.37 L595.71,497.41 L596.37,496.45 L596.59,496.11 M605.40,482.56 L605.48,482.45 L606.00,481.61 L606.50,480.80 L606.98,480.01 L607.44,479.26 L607.54,479.10 M614.70,466.17 L614.74,466.08 L615.16,465.31 L615.60,464.50 L616.05,463.67 L616.51,462.83 M623.65,449.52 L623.78,449.27 L624.32,448.25 L624.86,447.24 L625.39,446.23 L625.92,445.23 L626.45,444.23 L626.97,443.24 L627.49,442.27 L628.00,441.30 L628.51,440.33 L629.02,439.36 L629.53,438.38 L630.04,437.39 L630.55,436.40 L631.06,435.40 L631.57,434.40 L632.09,433.40 L632.41,432.76 M638.92,420.20 L638.99,420.08 L639.45,419.23 L639.90,418.40 L640.34,417.60 L640.77,416.83 L640.78,416.81 M648.59,403.64 L648.61,403.62 L649.09,402.88 L649.60,402.10 L650.13,401.30 L650.67,400.48 L650.70,400.44 M659.12,388.26 L659.51,387.72 L660.19,386.78 L660.86,385.86 L661.53,384.93 L662.19,384.02 L662.85,383.12 L663.51,382.23 L664.16,381.36 L664.80,380.50 L665.44,379.65 L666.08,378.79 L666.72,377.94 L667.37,377.08 L668.01,376.23 L668.66,375.37 L669.31,374.52 L669.96,373.67 L670.18,373.39 M678.95,362.67 L678.95,362.66 L679.58,361.97 L680.20,361.30 L680.81,360.65 L681.41,360.04 L681.55,359.89 M692.98,350.03 L693.04,349.98 L693.76,349.40 L694.50,348.80 L695.27,348.17 L696.00,347.56 M707.98,337.57 L708.66,337.05 L709.63,336.32 L710.61,335.60 L711.59,334.90 L712.57,334.23 L713.55,333.58 L714.54,332.95 L715.52,332.36 L716.50,331.80 L717.49,331.26 L718.50,330.74 L719.53,330.23 L720.57,329.74 L721.63,329.26 L722.70,328.80 L723.78,328.35 L724.87,327.91 L725.17,327.79 M739.54,323.21 L739.65,323.18 L740.59,322.93 L741.50,322.70 L742.38,322.48 L743.22,322.28 L743.32,322.25 M757.73,320.82 L757.80,320.82 L758.68,320.86 L759.60,320.90 L760.56,320.95 L761.49,321.01 M776.52,322.79 L776.61,322.81 L777.81,323.01 L779.00,323.23 L780.18,323.46 L781.34,323.69 L782.49,323.94 L783.61,324.19 L784.70,324.45 L785.77,324.72 L786.80,325.00 L787.81,325.29 L788.81,325.60 L789.80,325.92 L790.78,326.26 L791.75,326.61 L792.71,326.98 L793.66,327.35 L794.45,327.68 M806.77,333.65 L806.80,333.67 L807.60,334.09 L808.40,334.50 L809.18,334.91 L809.94,335.31 L810.16,335.44 M823.22,343.64 L823.35,343.72 L824.11,344.21 L824.90,344.70 L825.71,345.20 L826.52,345.70 M839.58,353.54 L839.59,353.54 L840.54,354.15 L841.49,354.75 L842.42,355.37 L843.35,355.98 L844.26,356.61 L845.16,357.23 L846.04,357.86 L846.90,358.50 L847.75,359.14 L848.61,359.80 L849.47,360.46 L850.33,361.14 L851.18,361.82 L852.04,362.51 L852.89,363.21 L853.74,363.91 L854.58,364.62 L854.58,364.62 M864.56,373.96 L865.17,374.61 L865.80,375.30 L866.40,375.97 L866.96,376.64 L867.09,376.79 M875.34,389.54 L875.41,389.66 L875.89,390.42 L876.40,391.20 L876.93,392.00 L877.44,392.80 M885.78,405.57 L885.90,405.76 L886.52,406.73 L887.14,407.70 L887.75,408.66 L888.35,409.62 L888.95,410.58 L889.55,411.53 L890.13,412.47 L890.70,413.40 L891.27,414.33 L891.83,415.28 L892.40,416.23 L892.96,417.19 L893.53,418.15 L894.09,419.12 L894.65,420.09 L895.20,421.07 L895.63,421.81 M902.63,434.08 L903.12,434.90 L903.60,435.70 L904.07,436.48 L904.53,437.22 L904.61,437.35 M912.76,449.87 L912.84,449.99 L913.31,450.73 L913.80,451.50 L914.30,452.30 L914.81,453.11 M922.81,466.10 L923.33,466.93 L923.92,467.88 L924.52,468.84 L925.12,469.78 L925.72,470.73 L926.31,471.66 L926.91,472.59 L927.50,473.50 L928.10,474.41 L928.70,475.33 L929.31,476.26 L929.93,477.19 L930.56,478.12 L931.19,479.06 L931.82,480.00 L932.46,480.94 L933.09,481.88 L933.15,481.97 M941.13,493.55 L941.65,494.31 L942.20,495.10 L942.73,495.87 L943.24,496.61 L943.34,496.75 M952.27,509.42 L952.35,509.54 L952.87,510.26 L953.40,511.00 L953.94,511.76 L954.49,512.54 M962.80,524.60 L963.39,525.39 L964.04,526.27 L964.71,527.14 L965.38,528.01 L966.07,528.87 L966.77,529.72 L967.48,530.57 L968.20,531.40 L968.94,532.24 L969.69,533.09 L970.47,533.96 L971.26,534.84 L972.07,535.72 L972.89,536.62 L973.73,537.52 L974.57,538.41 L975.39,539.27 M986.63,549.54 L986.67,549.57 L987.49,550.16 L988.30,550.70 L989.10,551.21 L989.90,551.70 L990.01,551.76 M1004.69,556.48 L1005.27,556.50 L1005.99,556.51 L1006.70,556.50 L1007.40,556.46 L1008.10,556.37 L1008.59,556.27 M1022.29,549.71 L1022.30,549.70 L1022.97,549.46 L1023.64,549.22 L1024.31,548.98 L1024.98,548.75 L1025.65,548.51 L1026.32,548.28 L1026.99,548.05 L1027.66,547.82 L1028.34,547.60 L1029.01,547.38 L1029.69,547.17 L1030.38,546.96 L1031.06,546.75 L1031.74,546.55 L1032.43,546.36 L1033.13,546.18 L1033.82,546.00 L1034.52,545.83 L1035.22,545.67 L1035.93,545.52 L1036.64,545.37 L1037.36,545.24 L1038.08,545.11 L1038.80,545.00 L1039.53,544.90 L1040.27,544.81 L1040.80,544.76 M1055.26,544.56 L1055.65,544.55 L1056.43,544.53 L1057.20,544.50 L1057.97,544.47 L1058.75,544.43 L1059.11,544.42 M1073.90,543.52 L1074.33,543.47 L1075.07,543.39 L1075.80,543.30 L1076.52,543.21 L1077.24,543.11 L1077.58,543.06 M1091.68,540.20 L1092.10,540.10 L1092.79,539.94 L1093.47,539.79 L1094.16,539.63 L1094.85,539.47 L1095.54,539.31 L1096.23,539.14 L1096.92,538.98 L1097.61,538.81 L1098.30,538.65 L1099.00,538.48 L1099.69,538.31 L1100.38,538.13 L1101.07,537.95 L1101.77,537.77 L1102.46,537.59 L1103.16,537.41 L1103.85,537.22 L1104.54,537.03 L1105.24,536.83 L1105.93,536.63 L1106.62,536.43 L1107.32,536.22 L1108.01,536.01 L1108.70,535.80 L1109.39,535.57 L1109.82,535.42 M1123.37,530.01 L1123.86,529.91 L1124.58,529.79 L1125.30,529.70 L1126.03,529.64 L1126.77,529.61 L1127.20,529.61 M1141.72,531.97 L1142.10,532.04 L1142.85,532.18 L1143.60,532.30 L1144.34,532.42 L1145.09,532.55 L1145.44,532.61 M1160.10,535.21 L1160.37,535.24 L1161.10,535.30 L1161.83,535.35 L1162.56,535.40 L1163.29,535.44 L1164.02,535.48 L1164.75,535.52 L1165.48,535.54 L1166.21,535.57 L1166.94,535.59 L1167.67,535.60 L1168.40,535.60 L1169.13,535.60 L1169.86,535.59 L1170.58,535.58 L1171.31,535.56 L1172.04,535.53 L1172.76,535.49 L1173.49,535.45 L1174.21,535.40 L1174.93,535.34 L1175.65,535.27 L1176.36,535.19 L1177.08,535.10 L1177.79,535.01 L1178.50,534.90 L1179.18,534.79 M1193.20,530.50 L1193.65,530.37 L1194.37,530.18 L1195.10,530.00 L1195.84,529.82 L1196.58,529.65 L1197.00,529.55 M1211.86,526.70 L1212.23,526.66 L1213.02,526.57 L1213.80,526.50 L1214.59,526.44 L1215.38,526.38 L1215.65,526.37 M1230.47,526.57 L1230.49,526.57 L1231.24,526.62 L1231.97,526.66 L1232.70,526.70 L1233.41,526.74 L1234.12,526.79 L1234.81,526.85 L1235.49,526.91 L1236.17,526.97 L1236.83,527.03 L1237.49,527.10 L1238.14,527.17 L1238.79,527.25 L1239.43,527.33 L1240.07,527.41 L1240.70,527.49 L1241.33,527.57 L1241.96,527.65 L1242.59,527.74 L1243.23,527.83 L1243.86,527.91 L1244.49,528.00 L1245.13,528.08 L1245.77,528.17 L1246.42,528.25 L1247.07,528.34 L1247.73,528.42 L1248.40,528.50 L1249.06,528.58 M1263.01,530.51 L1263.49,530.52 L1264.19,530.52 L1264.90,530.50 L1265.61,530.46 L1266.33,530.38 L1266.73,530.33 M1280.57,527.17 L1281.00,527.13 L1281.70,527.10 L1282.40,527.10 L1283.09,527.13 L1283.78,527.17 L1284.16,527.20 M1297.60,531.15 L1298.10,531.40 L1298.72,531.72 L1299.32,532.07 L1299.93,532.43 L1300.52,532.80 L1301.11,533.19 L1301.70,533.60 L1302.28,534.01 L1302.86,534.44 L1303.43,534.89 L1304.01,535.34 L1304.58,535.80 L1305.15,536.27 L1305.72,536.75 L1306.29,537.23 L1306.86,537.72 L1307.43,538.21 L1308.00,538.71 L1308.58,539.21 L1309.15,539.71 L1309.73,540.21 L1310.32,540.71 L1310.91,541.21 L1311.50,541.71 L1312.10,542.20 L1312.13,542.22 M1322.92,551.45 L1323.10,551.61 L1323.72,552.14 L1324.30,552.65 L1324.85,553.13 L1325.37,553.58 L1325.82,553.98" fill="none" stroke="#b077de" stroke-width="6" stroke-linecap="butt"/>
</g>
<g filter="url(#bin)">
<g font-size="53">
<text x="183.5" y="1044.3" text-anchor="middle">0</text>
<text x="469.5" y="1044.3" text-anchor="middle">90</text>
<text x="755.5" y="1044.3" text-anchor="middle">180</text>
<text x="1041.5" y="1044.3" text-anchor="middle">270</text>
<text x="1327.5" y="1044.3" text-anchor="middle">360</text>
<text x="163" y="1000.5" text-anchor="end">0</text>
<text x="163" y="693.5" text-anchor="end">5</text>
<text x="163" y="386.5" text-anchor="end">10</text>
<text x="163" y="79.5" text-anchor="end">15</text>
</g>
<g font-size="48">
<line x1="1024" y1="107.0" x2="1132" y2="107.0" stroke="#505050" stroke-width="6" shape-rendering="crispEdges"/>
<text x="1144" y="123">0.1μm</text>
<line x1="1024" y1="166.0" x2="1132" y2="166.0" stroke="#f04040" stroke-width="6" shape-rendering="crispEdges" stroke-dasharray="21 26"/>
<text x="1144" y="182">0.3μm</text>
<line x1="1024" y1="225.0" x2="1132" y2="225.0" stroke="#1a71de" stroke-width="6" shape-rendering="crispEdges" stroke-dasharray="4 24"/>
<text x="1144" y="241">0.5μm</text>
<line x1="1024" y1="284.0" x2="1132" y2="284.0" stroke="#37ad6b" stroke-width="6" shape-rendering="crispEdges" stroke-dasharray="25 15 4 15"/>
<text x="1144" y="300">0.7μm</text>
<line x1="1024" y1="343.0" x2="1132" y2="343.0" stroke="#b077de" stroke-width="6" shape-rendering="crispEdges" stroke-dasharray="19 14 4 15 4 15"/>
<text x="1144" y="359">0.9μm</text>
</g>
<text x="755" y="1115" font-size="50.5" text-anchor="middle" textLength="332" lengthAdjust="spacing">Crank angle/°CA</text>
<text transform="translate(58,489.5) rotate(-90)" font-size="50.5" text-anchor="middle" textLength="589" lengthAdjust="spacing">Asperity contact percentage/%</text>
</g>
</svg>
</body></html>
